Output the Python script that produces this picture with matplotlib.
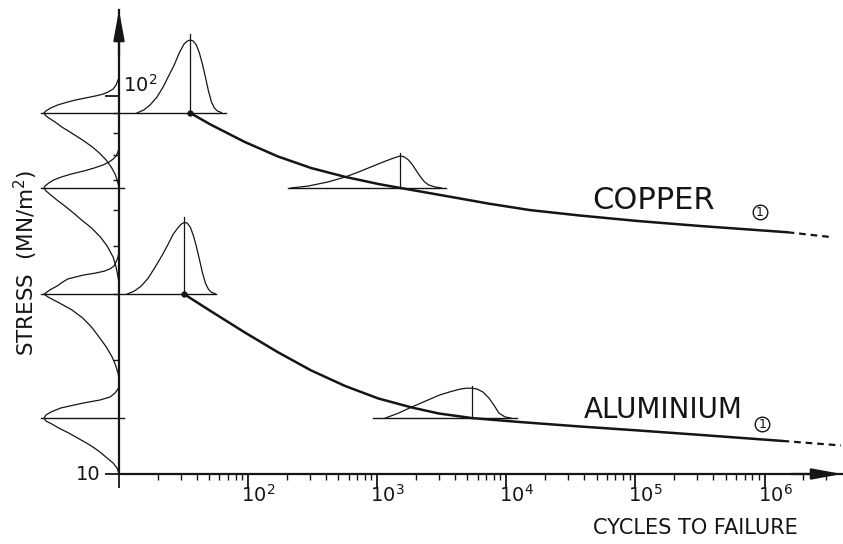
import numpy as np
import matplotlib
matplotlib.use("Agg")
import matplotlib.pyplot as plt

plt.rcParams['font.family'] = ['DejaVu Sans']
plt.rcParams['mathtext.default'] = 'regular'

INK = '#151515'

# S-N curves (cycles, stress MN/m^2)
cu_n = [35.6, 51, 94, 170, 307, 565, 1021, 1514, 3390, 7330, 15300, 36800, 104000, 317000, 1.51e6]
cu_s = [90.2, 84.1, 75.6, 69.2, 64.5, 61.1, 58.5, 57.1, 54.4, 51.9, 49.9, 48.3, 46.7, 45.3, 43.6]
cu_ext_n = [1.51e6, 3.15e6]
cu_ext_s = [43.6, 42.4]

al_n = [32, 51.1, 94, 170, 307, 565, 1021, 1845, 2990, 5410, 12560, 36800, 104000, 317000, 1.38e6]
al_s = [29.9, 27.0, 23.7, 21.0, 18.8, 17.09, 15.84, 15.0, 14.46, 14.06, 13.73, 13.36, 13.04, 12.69, 12.23]
al_ext_n = [1.38e6, 3.9e6]
al_ext_s = [12.23, 11.9]

# life distributions: cycles vs height (decades above the base stress)
cu1_base = 90.2
cu1_life_n = [13.8, 15.6, 17.4, 19.7, 22.0, 24.5, 26.8, 29.3, 32.0, 33.8, 35.7,
              37.6, 39.7, 41.9, 44.2, 46.7, 49.3, 52.0, 54.8, 57.9, 62.2]
cu1_life_h = [0, .008, .021, .042, .069, .101, .127, .159, .183, .190, .193,
              .190, .180, .159, .130, .095, .058, .029, .013, .005, .001]
cu1_peak = 35.7
cu1_span = [None, 66.9]

cu2_base = 57.1
cu2_life_n = [214, 291, 416, 564, 713, 900, 1116, 1335, 1513, 1626, 1747, 1877,
              2016, 2166, 2328, 2500, 2785, 3157]
cu2_life_h = [0, .005, .016, .029, .042, .056, .069, .079, .085, .082, .074, .061,
              .045, .029, .016, .008, .003, 0]
cu2_peak = 1513
cu2_span = [203, 3390]

al1_base = 29.9
al1_life_n = [11.5, 13.1, 14.8, 16.8, 19.0, 21.6, 24.0, 26.3, 28.8, 30.3, 32.0,
              33.8, 35.7, 37.6, 39.7, 41.9, 44.2, 46.7, 49.3, 52.0, 55.8]
al1_life_h = [0, .008, .021, .042, .071, .103, .132, .159, .177, .185, .190,
              .188, .177, .156, .127, .093, .058, .029, .013, .005, .001]
al1_peak = 32.0
al1_span = [None, 56]

al2_base = 14.06
al2_life_n = [1156, 1460, 1843, 2369, 3045, 3710, 4440, 4940, 5406, 5912, 6584,
              7334, 8023, 8773, 9770, 10880]
al2_life_h = [0, .013, .029, .045, .061, .070, .077, .079, .079, .077, .069,
              .053, .034, .013, .003, 0]
al2_peak = 5406
al2_span = [933, 12100]

# stress distributions on the stress axis: stress vs relative density
cu1_str_s = [110.3, 106.9, 104.3, 102.5, 101.2, 100.0, 98.8, 97.6, 96.4, 94.7, 93.0, 91.3, 90.2,
             89.1, 87.4, 85.4, 82.8, 79.8, 76.5, 73.3, 70.7, 67.7, 64.9, 62.2, 60.0, 57.4]
cu1_str_d = [.013, .039, .079, .145, .21, .316, .447, .579, .684, .816, .908, .974, 1,
             .987, .934, .855, .763, .632, .487, .355, .263, .171, .105, .053, .026, 0]

cu2_str_s = [71.9, 70.7, 69.4, 68.1, 66.9, 65.7, 64.5, 63.3, 62.2, 61.1, 60.0, 58.9, 57.8, 57.1,
             56.1, 54.7, 53.1, 51.2, 49.0, 47.0, 44.8, 42.4, 40.1, 37.5, 35.3, 33.2, 32.0]
cu2_str_d = [.007, .02, .039, .079, .132, .211, .329, .474, .632, .763, .868, .934, .987, 1,
             .974, .908, .829, .724, .605, .5, .368, .25, .158, .079, .039, .013, 0]

al1_str_s = [38.7, 37.5, 36.4, 35.5, 34.9, 34.4, 34.0, 33.6, 33.2, 32.8, 32.2, 31.4, 30.7, 29.9,
             29.4, 28.3, 27.2, 25.9, 24.5, 23.0, 21.7, 20.4, 19.4, 18.5, 17.9]
al1_str_d = [0, .013, .039, .066, .118, .197, .316, .474, .579, .684, .75, .829, .921, 1,
             .947, .789, .632, .487, .368, .263, .171, .092, .046, .013, 0]

al2_str_s = [17.09, 16.79, 16.38, 15.99, 15.70, 15.41, 15.13, 14.95, 14.59, 14.32, 14.06,
             13.81, 13.56, 13.23, 12.84, 12.45, 12.08, 11.72, 11.36, 11.02, 10.69, 10.37, 10.12, 10.0]
al2_str_d = [0, .013, .053, .118, .25, .474, .658, .776, .908, .974, 1,
             .974, .895, .803, .671, .553, .434, .329, .237, .158, .079, .026, .007, 0]

x_major = [10, 100, 1e3, 1e4, 1e5, 1e6]
x_labels = [2, 3, 4, 5, 6]

W, H = 843, 544
fig = plt.figure(figsize=(W / 100, H / 100), dpi=100)
ax = fig.add_axes([119 / W, 70 / H, 723 / W, 464 / H])
sax = fig.add_axes([30 / W, 70 / H, 89 / W, 464 / H], sharey=ax)

ax.set_xscale('log')
ax.set_yscale('log')
ax.set_xlim(10, 10 ** 6.6)
ax.set_ylim(10, 10 ** 2.2275)

for side in ['top', 'right']:
    ax.spines[side].set_visible(False)
for side in ['left', 'bottom']:
    ax.spines[side].set_linewidth(1.6)
    ax.spines[side].set_color(INK)

ax.set_xticks(x_major)
ax.set_xticks([m * 10 ** e for e in range(1, 7) for m in range(2, 10) if m * 10 ** e < 10 ** 6.6], minor=True)
ax.set_yticks([10, 100])
ax.set_yticks([20, 30, 40, 50, 60, 70, 80, 90], minor=True)
ax.tick_params(which='major', length=10, width=1.3, color=INK, labelbottom=False, labelleft=False)
ax.tick_params(which='minor', length=4.5, width=1.0, color=INK, labelleft=False, labelbottom=False)

# axis arrows
arrow = dict(arrowstyle='-|>,head_length=1.2,head_width=0.22', color=INK, lw=1.6,
             mutation_scale=15, shrinkA=0, shrinkB=0)
ax.annotate('', xy=(0, 1), xytext=(0, 0.9), xycoords='axes fraction', arrowprops=arrow)
ax.annotate('', xy=(1, 0), xytext=(0.93, 0), xycoords='axes fraction', arrowprops=arrow)

# S-N curves
ax.plot(cu_n, cu_s, color=INK, lw=1.8, solid_capstyle='round', solid_joinstyle='round')
ax.plot(cu_ext_n, cu_ext_s, color=INK, lw=1.6, ls=(0, (3, 2.2)))
ax.plot(al_n, al_s, color=INK, lw=1.8, solid_capstyle='round', solid_joinstyle='round')
ax.plot(al_ext_n, al_ext_s, color=INK, lw=1.6, ls=(0, (3, 2.2)))
ax.plot([cu_n[0], al_n[0]], [cu_s[0], al_s[0]], 'o', color=INK, ms=3.5)

# life distributions
lives = [
    (cu1_base, cu1_life_n, cu1_life_h, cu1_peak, cu1_span),
    (cu2_base, cu2_life_n, cu2_life_h, cu2_peak, cu2_span),
    (al1_base, al1_life_n, al1_life_h, al1_peak, al1_span),
    (al2_base, al2_life_n, al2_life_h, al2_peak, al2_span),
]
for base, n, h, peak, span in lives:
    ax.plot(n, base * 10 ** np.array(h), color=INK, lw=0.9, solid_joinstyle='round')
    top = max(h) * 1.08
    ax.plot([peak, peak], [base, base * 10 ** top], color=INK, lw=0.9)
    lo = span[0] if span[0] is not None else 10
    ax.plot([lo, span[1]], [base, base], color=INK, lw=1.0)

# stress distributions left of the stress axis
sax.set_xlim(-89 / 75, 0)
sax.axis('off')
stresses = [
    (cu1_base, cu1_str_s, cu1_str_d),
    (cu2_base, cu2_str_s, cu2_str_d),
    (al1_base, al1_str_s, al1_str_d),
    (al2_base, al2_str_s, al2_str_d),
]
for base, s, d in stresses:
    sax.plot(-np.array(d), s, color=INK, lw=0.9, solid_joinstyle='round')
    sax.plot([-1.04, 0], [base, base], color=INK, lw=1.0)
# short overshoot of the lower lines past the axis
ax.plot([10, 10.9], [cu2_base, cu2_base], color=INK, lw=1.0)
ax.plot([10, 10.9], [al2_base, al2_base], color=INK, lw=1.0)

# tick labels
for k in x_labels:
    ax.annotate(f'$10^{{{k}}}$', xy=(10 ** k, 0), xycoords=('data', 'axes fraction'),
                xytext=(-5, -7), textcoords='offset points', ha='left', va='top',
                fontsize=14, color=INK)
ax.annotate('10', xy=(0, 10), xycoords=('axes fraction', 'data'), xytext=(-13, 0),
            textcoords='offset points', ha='right', va='center', fontsize=14, color=INK)
ax.annotate('$10^{2}$', xy=(0, 100), xycoords=('axes fraction', 'data'), xytext=(3, 0),
            textcoords='offset points', ha='left', va='bottom', fontsize=14, color=INK)

# curve labels
ax.text(1.37e5, 53, 'COPPER', ha='center', va='center', fontsize=22, color=INK)
ax.text(1.64e5, 14.8, 'ALUMINIUM', ha='center', va='center', fontsize=20, color=INK)
for n0, s0 in [(9.2e5, 49.3), (9.6e5, 13.56)]:
    ax.plot(n0, s0, 'o', ms=10.5, mfc='none', mec=INK, mew=1.0)
    ax.text(n0, s0, '1', ha='center', va='center', fontsize=9, color=INK)

fig.text(26 / W, 1 - 263 / H, 'STRESS  (MN/m$^{2}$)', rotation=90, ha='center', va='center',
         fontsize=15.5, color=INK)
fig.text(695 / W, 1 - 528 / H, 'CYCLES TO FAILURE', ha='center', va='center',
         fontsize=15, color=INK)

fig.savefig('out.png', dpi=100)
